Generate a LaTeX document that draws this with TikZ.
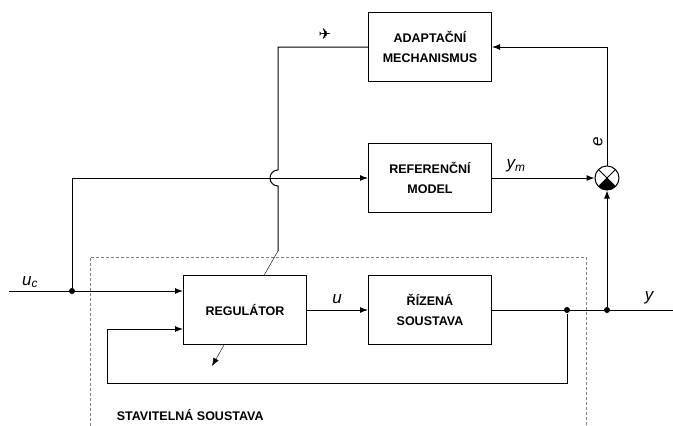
\documentclass[tikz,border=0pt]{standalone}
\usepackage{fontspec}
\setmainfont{Liberation Sans}
\newfontfamily\planefont{DejaVu Sans}
\usetikzlibrary{arrows.meta, backgrounds}

\begin{document}
\begin{tikzpicture}[x=1pt, y=-1pt, line width=1pt,
  block/.style={draw, fill=white, minimum width=123pt, minimum height=69pt, align=center,
    font=\fontsize{12.5}{20}\selectfont\bfseries},
  arr/.style={-{Latex[length=8pt,width=6pt]}},
  dot/.style={circle, fill, inner sep=0pt, minimum size=6pt},
  sig/.style={font=\fontsize{17}{18}\selectfont\itshape},
  summer/.style={circle, draw, fill=white, minimum size=24pt, inner sep=0pt,
    path picture={\fill[black] (path picture bounding box.center) -- (path picture bounding box.south west)
      -- (path picture bounding box.south east) -- cycle;
      \draw (path picture bounding box.north west) -- (path picture bounding box.south east)
      (path picture bounding box.north east) -- (path picture bounding box.south west);}}]
\useasboundingbox (0,0) rectangle (673,426);
% blocks
\node[block] (adapt) at (430,47) {ADAPTAČNÍ\\MECHANISMUS};
\node[block] (refm) at (430,178) {REFERENČNÍ\\MODEL};
\node[block] (reg) at (245,310) {REGULÁTOR};
\node[block] (plant) at (430,310) {ŘÍZENÁ\\SOUSTAVA};
\node[summer] (sum) at (607,178) {};
\node[dot] (jc) at (72,291) {};
\node[dot] (jfb) at (567,310) {};
\node[dot] (jy) at (607,310) {};
\coordinate (uin) at (9,291);
\coordinate (yout) at (673,310);
\coordinate (hop) at (278,178);
\coordinate (tune) at (278,251);
\coordinate (tip) at (212,366);
\coordinate (fbl) at (107,383);
% stavitelna soustava
\draw[dashed, gray, line width=0.7pt, dash pattern=on 3pt off 2pt] (90,426) |- (586,257) -- (586,426);
\node[anchor=west, font=\fontsize{12.5}{14}\selectfont\bfseries] (stav) at (113,415) {STAVITELNÁ SOUSTAVA};
% connectors
\draw[arr] (uin) -- (uin -| reg.west);
\draw[arr] (jc) |- (refm.west);
\draw[arr] (refm.east) -- (sum.west);
\draw[arr] (reg.east) -- (plant.west);
\draw (plant.east) -- (yout);
\draw[arr] (jy) -- (sum.south);
\draw[arr] (sum.north) |- (adapt.east);
\draw[arr] (jfb) |- (fbl) |- ([yshift=-19pt]reg.west);
\draw (adapt.west) -| ([yshift=8pt]hop) arc[start angle=90, end angle=270, radius=8pt] -- (tune);
\begin{scope}[on background layer]
\draw[arr] (tune) -- (tip);
\end{scope}
% labels
\node[sig] at (30,282) {u\textsubscript{c}};
\node[sig] at (337,299) {u};
\node[sig] at (516,166) {y\textsubscript{m}};
\node[sig] at (649,298) {y};
\node[sig, rotate=90] at (598,142) {e};
\node[font=\planefont\fontsize{15}{15}\selectfont] at (325,34) {✈};
\end{tikzpicture}
\end{document}
